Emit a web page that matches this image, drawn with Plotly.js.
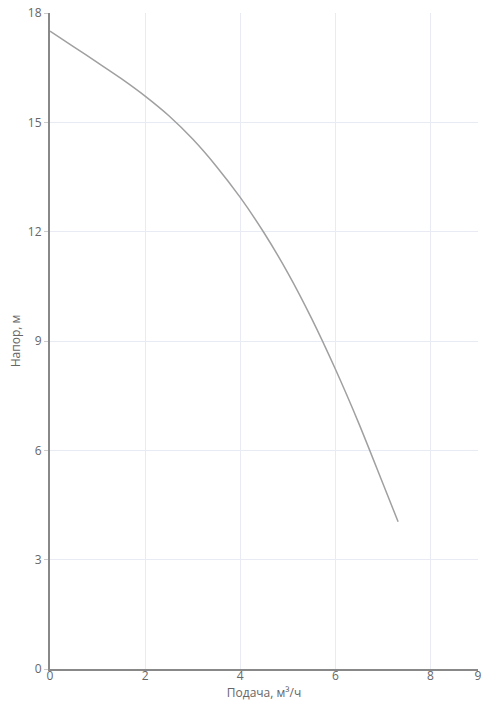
<!DOCTYPE html>
<html>
<head>
<meta charset="utf-8">
<script src="https://cdn.plot.ly/plotly-3.0.1.min.js"></script>
<style>
html,body{margin:0;padding:0;background:#fff;}
#topline{position:absolute;left:40px;top:0;width:451px;height:1px;background:#c8c8c8;}
#chart{width:491px;height:703px;}
</style>
</head>
<body>
<div id="topline"></div>
<div id="chart"></div>
<script>
const flow = [0, 0.5, 1, 1.5, 2, 2.5, 3, 3.5, 4, 4.5, 5, 5.5, 6, 6.5, 7, 7.32];
const head = [17.5, 17.07, 16.64, 16.2, 15.72, 15.18, 14.54, 13.79, 12.94, 11.97, 10.87, 9.62, 8.23, 6.72, 5.09, 4.04];
const xTicks = [0, 2, 4, 6, 8, 9];
const yTicks = [0, 3, 6, 9, 12, 15, 18];
const xTitle = 'Подача, м³/ч';
const yTitle = 'Напор, м';

Plotly.newPlot('chart', [{
  x: flow, y: head, type: 'scatter', mode: 'lines',
  line: {color: '#a0a0a0', width: 1.5, shape: 'spline', smoothing: 0.8},
  hoverinfo: 'none'
}], {
  width: 491, height: 703,
  margin: {l: 50, r: 13, t: 13, b: 34},
  paper_bgcolor: '#fff', plot_bgcolor: '#fff',
  showlegend: false,
  font: {family: 'Open Sans, sans-serif', size: 12, color: '#666'},
  xaxis: {
    range: [0, 9], tickvals: xTicks, ticktext: xTicks.map(String),
    showline: true, linecolor: '#888', linewidth: 2,
    showgrid: true, gridcolor: '#e8ebf3', gridwidth: 1,
    zeroline: false, ticks: '', ticklabelstandoff: -5,
    tickfont: {size: 12, color: '#666'},
    title: {text: xTitle, font: {size: 12, color: '#666'}, standoff: 0},
    automargin: false
  },
  yaxis: {
    range: [0, 18], tickvals: yTicks, ticktext: yTicks.map(String),
    showline: true, linecolor: '#888', linewidth: 2,
    showgrid: true, gridcolor: '#e8ebf3', gridwidth: 1,
    zeroline: false, ticks: 'outside', ticklen: 4, tickcolor: '#ccc',
    tickfont: {size: 12, color: '#666'},
    title: {text: yTitle, font: {size: 12, color: '#666'}, standoff: 5},
    automargin: false
  }
}, {displayModeBar: false, staticPlot: true});
</script>
</body>
</html>
